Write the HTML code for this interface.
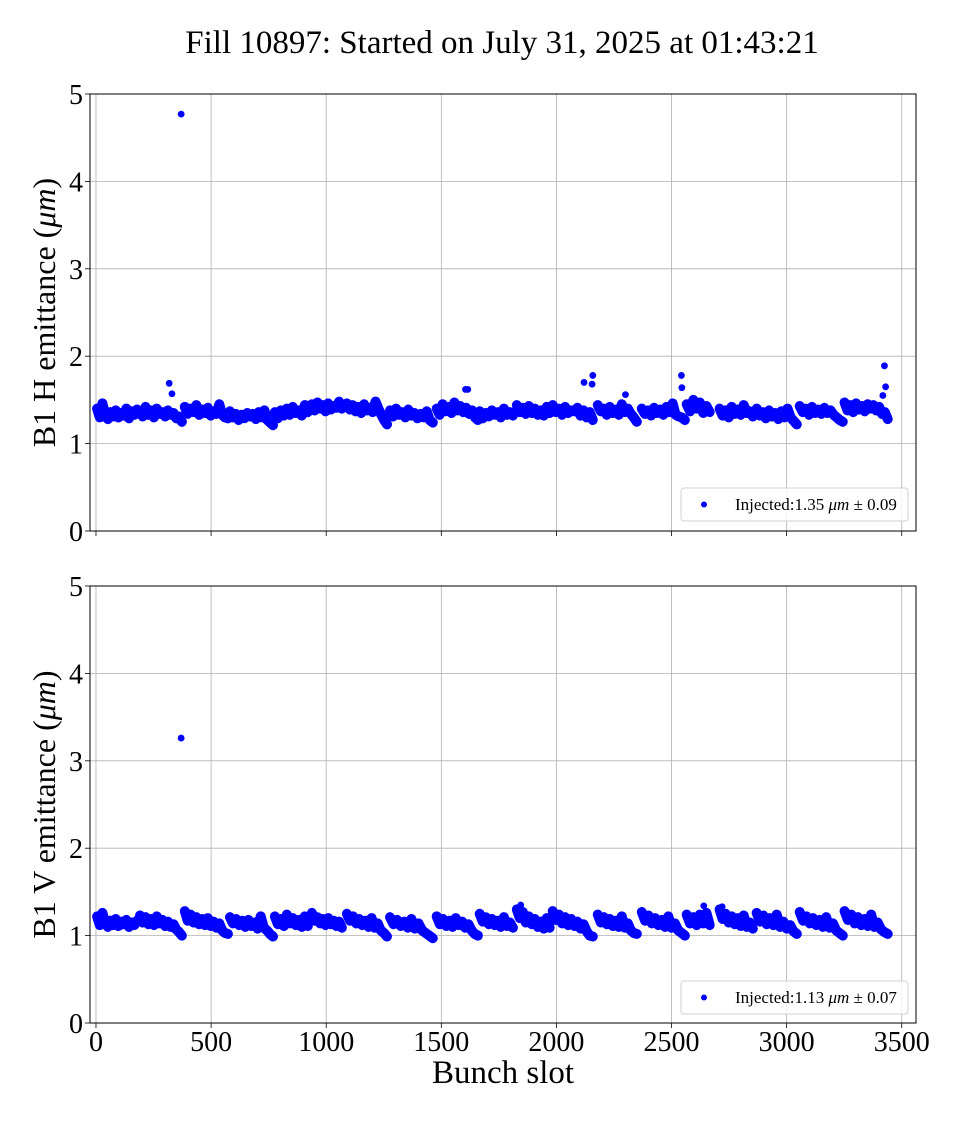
<!DOCTYPE html>
<html><head><meta charset="utf-8"><style>
body{margin:0;background:#fff;width:960px;height:1120px;overflow:hidden}
svg{font-family:"Liberation Serif","DejaVu Serif",serif}
</style></head><body>
<svg id="chart" width="960" height="1120" xmlns="http://www.w3.org/2000/svg">
<text x="502" y="53" font-size="33" text-anchor="middle">Fill 10897: Started on July 31, 2025 at 01:43:21</text>
</svg>
<script>
const xTicks=[0,500,1000,1500,2000,2500,3000,3500];
const yTicks=[0,1,2,3,4,5];
const trainStarts=[5,191,386,582,777,938,1090,1277,1480,1667,1828,1984,2180,2371,2566,2709,2870,3057,3252];
const trainEnds=[178,373,573,769,920,1068,1264,1463,1659,1811,1971,2158,2349,2558,2666,2853,3044,3244,3439];
const hTrains=[
[1.40,1.30,1.46,1.33,1.28,1.36,1.31,1.38,1.30,1.35,1.32,1.40,1.29,1.37,1.33,1.39],
[1.37,1.31,1.42,1.33,1.38,1.30,1.40,1.34,1.36,1.31,1.38,1.33,1.35,1.29,1.31,1.25],
[1.42,1.34,1.40,1.36,1.44,1.33,1.39,1.35,1.41,1.32,1.37,1.34,1.45,1.33,1.30,1.29],
[1.37,1.30,1.34,1.27,1.33,1.29,1.35,1.31,1.34,1.28,1.36,1.30,1.38,1.27,1.24,1.21],
[1.36,1.29,1.38,1.32,1.40,1.33,1.42,1.35,1.38,1.32,1.44,1.36],
[1.45,1.38,1.47,1.40,1.44,1.37,1.46,1.39,1.43,1.41,1.48,1.40],
[1.46,1.39,1.44,1.37,1.42,1.35,1.45,1.38,1.41,1.36,1.48,1.40,1.33,1.27,1.22],
[1.38,1.31,1.40,1.33,1.36,1.30,1.39,1.32,1.35,1.29,1.34,1.30,1.37,1.27,1.24],
[1.40,1.33,1.45,1.37,1.42,1.35,1.47,1.38,1.43,1.36,1.41,1.34,1.38,1.30,1.27],
[1.37,1.29,1.35,1.31,1.38,1.33,1.36,1.30,1.40,1.33,1.36,1.32],
[1.44,1.36,1.41,1.34,1.43,1.35,1.40,1.33,1.38,1.32,1.42,1.35],
[1.44,1.36,1.40,1.33,1.42,1.35,1.38,1.37,1.41,1.32,1.38,1.30,1.36,1.27],
[1.44,1.37,1.40,1.33,1.42,1.35,1.39,1.33,1.45,1.36,1.40,1.34,1.30,1.25],
[1.40,1.34,1.38,1.32,1.41,1.35,1.39,1.33,1.42,1.36,1.46,1.33,1.31,1.30,1.27],
[1.45,1.37,1.50,1.40,1.47,1.35,1.43,1.36],
[1.40,1.32,1.38,1.30,1.42,1.34,1.39,1.33,1.44,1.35,1.37,1.31],
[1.40,1.32,1.36,1.29,1.38,1.31,1.35,1.28,1.37,1.30,1.40,1.30,1.26,1.22],
[1.43,1.36,1.40,1.33,1.42,1.35,1.39,1.34,1.41,1.35,1.38,1.33,1.30,1.27,1.25],
[1.47,1.38,1.44,1.36,1.46,1.39,1.43,1.37,1.45,1.40,1.44,1.38,1.42,1.34,1.36,1.28]];
const hOutlierSlots=[370,318,330,2120,2155,2158,2300,2543,2545,3425,3430,3418,1605,1615];
const hOutlierValues=[4.77,1.69,1.57,1.70,1.68,1.78,1.56,1.78,1.64,1.89,1.65,1.55,1.62,1.62];
const vTrains=[
[1.22,1.12,1.26,1.15,1.10,1.17,1.12,1.19,1.11,1.16,1.13,1.18,1.10,1.15,1.12,1.17],
[1.23,1.15,1.21,1.13,1.19,1.12,1.22,1.14,1.18,1.11,1.16,1.10,1.13,1.07,1.04,1.00],
[1.28,1.17,1.24,1.15,1.21,1.13,1.19,1.12,1.20,1.11,1.16,1.09,1.14,1.06,1.03,1.02],
[1.21,1.14,1.19,1.12,1.17,1.10,1.18,1.11,1.15,1.08,1.22,1.09,1.06,1.02,0.99],
[1.22,1.13,1.19,1.11,1.24,1.14,1.20,1.12,1.18,1.10,1.22,1.11],
[1.26,1.17,1.21,1.14,1.19,1.12,1.20,1.13,1.17,1.11,1.16,1.09],
[1.25,1.17,1.22,1.14,1.19,1.12,1.17,1.10,1.20,1.09,1.14,1.06,1.03,0.99],
[1.21,1.13,1.18,1.11,1.16,1.09,1.19,1.08,1.14,1.06,1.03,1.00,0.97],
[1.22,1.13,1.19,1.11,1.17,1.10,1.20,1.12,1.16,1.09,1.13,1.06,1.02,1.00],
[1.25,1.16,1.21,1.13,1.19,1.12,1.17,1.10,1.21,1.11,1.15,1.09],
[1.30,1.20,1.27,1.15,1.22,1.13,1.19,1.10,1.16,1.08,1.20,1.09],
[1.28,1.18,1.24,1.14,1.21,1.12,1.19,1.11,1.16,1.08,1.13,1.05,1.00,0.99],
[1.24,1.15,1.21,1.13,1.19,1.11,1.17,1.10,1.22,1.09,1.14,1.06,1.03,1.02],
[1.27,1.17,1.23,1.14,1.20,1.12,1.18,1.10,1.22,1.09,1.14,1.06,1.03,1.00],
[1.24,1.14,1.21,1.12,1.24,1.14,1.26,1.12],
[1.30,1.19,1.25,1.15,1.22,1.13,1.20,1.11,1.23,1.10,1.15,1.08],
[1.26,1.16,1.23,1.13,1.20,1.12,1.24,1.10,1.16,1.08,1.12,1.05,1.02],
[1.27,1.17,1.22,1.14,1.20,1.12,1.18,1.10,1.21,1.09,1.14,1.06,1.03,1.00],
[1.28,1.18,1.24,1.14,1.21,1.12,1.19,1.11,1.24,1.10,1.15,1.07,1.04,1.02]];
const vOutlierSlots=[370,1845,2640,2720];
const vOutlierValues=[3.26,1.35,1.34,1.33];
const legendH="Injected:1.35 ";
const legendV="Injected:1.13 ";
const legendHErr=" ± 0.09";
const legendVErr=" ± 0.07";

const NS="http://www.w3.org/2000/svg";
const svg=document.getElementById('chart');
const L=90,R=916,XMIN=-26,XMAX=3562;
function xs(v){return L+(v-XMIN)/(XMAX-XMIN)*(R-L);}
function mk(tag,attrs,parent){const e=document.createElementNS(NS,tag);for(const k in attrs)e.setAttribute(k,attrs[k]);(parent||svg).appendChild(e);return e;}

function panel(top,bottom,trains,oSlots,oVals,ylabel,legTxt,legErr,legY,showXLabels,pname){
  const g=mk('g',{});
  
  
  const ys=v=>bottom-v/5*(bottom-top);
  yTicks.forEach(t=>{
    const gl=mk('line',{x1:L,x2:R,y1:ys(t),y2:ys(t),stroke:'#b0b0b0','stroke-width':0.8},g);
    
    
    mk('line',{x1:L-5,x2:L,y1:ys(t),y2:ys(t),stroke:'#000','stroke-width':0.8},g);
    const tl=mk('text',{x:L-7,y:ys(t)+10,'font-size':28,'text-anchor':'end'},g);
    tl.textContent=t;
    
    
  });
  xTicks.forEach(t=>{
    const gl=mk('line',{x1:xs(t),x2:xs(t),y1:top,y2:bottom,stroke:'#b0b0b0','stroke-width':0.8},g);
    
    
    mk('line',{x1:xs(t),x2:xs(t),y1:bottom,y2:bottom+5,stroke:'#000','stroke-width':0.8},g);
    if(showXLabels){
      const tl=mk('text',{x:xs(t),y:bottom+28,'font-size':28,'text-anchor':'middle'},g);
      tl.textContent=t;
      
      
    }
  });
  const pts=mk('g',{fill:'#0000ff'},g);
  
  
  trains.forEach((vals,ti)=>{
    const s=trainStarts[ti],e=trainEnds[ti],n=vals.length;
    const d=vals.map((v,i)=>(i?'L':'M')+xs(s+i*(e-s)/(n-1)).toFixed(1)+','+ys(v).toFixed(1)).join('');
    const band=mk('path',{d:d,fill:'none',stroke:'#0000ff','stroke-width':10,'stroke-linejoin':'round','stroke-linecap':'round'},pts);
    
    
    vals.forEach((v,i)=>{
      const sl=s+i*(e-s)/(n-1);
      const c=mk('circle',{cx:xs(sl),cy:ys(v),r:3.4},pts);
      
      
    });
  });
  oSlots.forEach((s,i)=>{
    const c=mk('circle',{cx:xs(s),cy:ys(oVals[i]),r:3.4},pts);
    
    
  });
  const fr=mk('rect',{x:L,y:top,width:R-L,height:bottom-top,fill:'none',stroke:'#000','stroke-width':1},g);
  
  
  const yl=mk('text',{x:0,y:0,'font-size':32,'text-anchor':'middle',transform:`translate(55,${(top+bottom)/2}) rotate(-90)`},g);
  yl.innerHTML=ylabel+' (<tspan font-style="italic">μm</tspan>)';
  
  
  const lg=mk('g',{},g);
  
  
  mk('rect',{x:681,y:legY,width:227,height:33,rx:3,fill:'#fff','fill-opacity':0.8,stroke:'#d0d0d0'},lg);
  mk('circle',{cx:704,cy:legY+16.5,r:3,fill:'#0000ff'},lg);
  const lt=mk('text',{x:735,y:legY+22,'font-size':17},lg);
  lt.innerHTML=legTxt+'<tspan font-style="italic">μm</tspan>'+legErr;
  
  
}
panel(94,531,hTrains,hOutlierSlots,hOutlierValues,'B1 H emittance',legendH,legendHErr,488,false,'h-emittance-panel');
panel(586,1023,vTrains,vOutlierSlots,vOutlierValues,'B1 V emittance',legendV,legendVErr,981,true,'v-emittance-panel');
const xl=mk('text',{x:503,y:1083,'font-size':33,'text-anchor':'middle'});
xl.textContent='Bunch slot';


</script>
</body></html>
